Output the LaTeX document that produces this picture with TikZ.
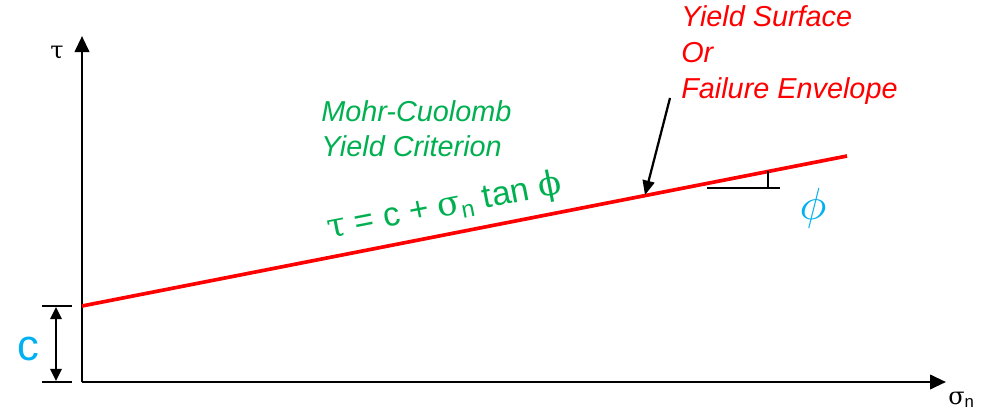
\documentclass[tikz,border=0pt]{standalone}
\usepackage{fontspec}
\setmainfont{Liberation Sans}
\newfontfamily\grk{DejaVu Serif}
\usetikzlibrary{arrows.meta}
\definecolor{EnvRed}{HTML}{FF0000}
\definecolor{CritGreen}{HTML}{00B050}
\definecolor{AngleBlue}{HTML}{00B0F0}
\tikzset{
  axis/.style={line width=1.9pt, draw=black, -{Triangle[length=4mm, width=3.6mm]}},
  envelope/.style={line width=2.6pt, draw=EnvRed},
  pointer/.style={line width=1.6pt, draw=black, -{Triangle[length=3.6mm, width=3mm]}},
  dimarrow/.style={line width=1.6pt, draw=black, {Triangle[length=3mm, width=2.8mm]}-{Triangle[length=3mm, width=2.8mm]}},
  thin line/.style={line width=1pt, draw=black},
  redtext/.style={text=EnvRed, align=left, inner sep=0pt, font=\fontsize{20.5}{25.6}\selectfont\itshape},
  greentext/.style={text=CritGreen, align=left, inner sep=0pt, font=\fontsize{20.5}{25}\selectfont\itshape},
  bluetext/.style={text=AngleBlue, inner sep=0pt}
}

\begin{document}
\begin{tikzpicture}[x=0.025cm, y=-0.025cm]
\useasboundingbox (0,0) rectangle (990,412);

% axes
\coordinate (O) at (82,382);
\coordinate (tautip) at (82,36);
\coordinate (sigtip) at (946,382);
\draw[axis] (O) -- (tautip);
\draw[axis] (O) -- (sigtip);
\node[inner sep=0pt, font=\grk\fontsize{17}{17}\selectfont] (taulabel) at (57,53) {τ};
\node[inner sep=0pt, anchor=base west, font=\fontsize{17}{17}\selectfont] (siglabel) at (948,404) {{\grk σ}\textsubscript{n}};

% failure envelope
\coordinate (envstart) at (82,306);
\coordinate (envend) at (847,156);
\draw[envelope] (envstart) -- (envend);

% cohesion c
\coordinate (ctop) at (72,306);
\coordinate (cbot) at (72,382);
\coordinate (ctopl) at (42,306);
\coordinate (cbotl) at (42,382);
\draw[thin line] (ctopl) -- (ctop);
\draw[thin line] (cbotl) -- (cbot);
\coordinate (dimtop) at (56,307);
\coordinate (dimbot) at (56,381);
\draw[dimarrow] (dimtop) -- (dimbot);
\node[bluetext, font=\fontsize{31}{31}\selectfont] (clabel) at (28,349) {c};

% friction angle
\coordinate (phileft) at (707,188);
\coordinate (phiright) at (780,188);
\coordinate (phitick) at (768,171.5);
\coordinate (phibase) at (768,188);
\draw[thin line] (phileft) -- (phiright);
\draw[thin line] (phibase) -- (phitick);
\node[bluetext, font=\fontsize{10}{10}\selectfont] (philabel) at (813,208) {\scalebox{3.2}{$\phi$}};

% labels
\node[redtext, anchor=north west] (envtext) at (681,5) {Yield Surface\\Or\\Failure Envelope};
\node[greentext, anchor=north west] (crittext) at (321,100) {Mohr-Cuolomb\\Yield Criterion};
\node[text=CritGreen, inner sep=0pt, anchor=base, rotate=11, font=\fontsize{24}{24}\selectfont] (eqn) at (446,216)
  {{\grk τ} = c + {\grk σ}\textsubscript{n} tan {\grk ϕ}};

% pointer to envelope
\coordinate (ptrstart) at (670,98);
\coordinate (ptrend) at (645,195);
\draw[pointer] (ptrstart) -- (ptrend);
\end{tikzpicture}
\end{document}
